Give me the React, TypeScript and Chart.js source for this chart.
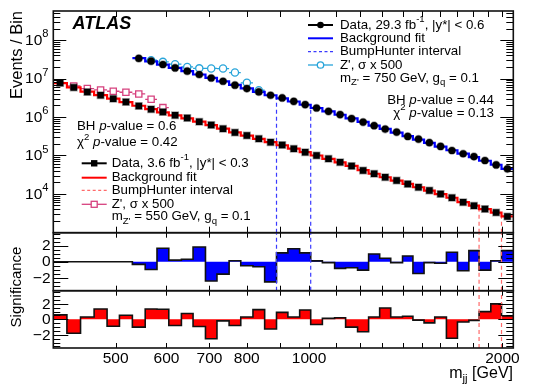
import React, { useEffect, useRef } from "react";
import { Chart, registerables } from "chart.js";
Chart.register(...registerables);

const FONT = '"Liberation Sans", Arial, Helvetica, sans-serif';

// ---- data ----
const binEdges = [400, 420, 441, 463, 485, 507, 531, 556, 580, 605, 633, 660, 690, 719, 751, 783, 818, 853, 890, 927, 967, 1006, 1049, 1096, 1140, 1190, 1238, 1288, 1340, 1398, 1451, 1510, 1569, 1636, 1702, 1773, 1839, 1918, 1993, 2079];

const redData = [7.7e6, 5.9e6, 4.5e6, 3.7e6, 3.0e6, 2.47e6, 1.94e6, 1.59e6, 1.35e6, 1.11e6, 9.4e5, 7.6e5, 6.2e5, 5.0e5, 3.95e5, 3.33e5, 2.73e5, 2.22e5, 1.88e5, 1.5e5, 1.22e5, 1.0e5, 8.2e4, 6.7e4, 5.3e4, 4.1e4, 3.33e4, 2.71e4, 2.22e4, 1.82e4, 1.49e4, 1.22e4, 1.0e4, 7.9e3, 6.1e3, 4.95e3, 4.06e3, 3.31e3, 2.6e3];
const redFit = [7.6e6, 5.95e6, 4.6e6, 3.72e6, 3.02e6, 2.45e6, 1.97e6, 1.6e6, 1.33e6, 1.1e6, 9.2e5, 7.6e5, 6.2e5, 5.0e5, 4.0e5, 3.3e5, 2.72e5, 2.24e5, 1.85e5, 1.51e5, 1.23e5, 1.0e5, 8.2e4, 6.65e4, 5.35e4, 4.15e4, 3.35e4, 2.72e4, 2.22e4, 1.82e4, 1.49e4, 1.22e4, 9.9e3, 7.95e3, 6.15e3, 4.95e3, 4.0e3, 3.25e3, 2.6e3];

const blueFirstBin = 6;
const blueData = [3.35e7, 2.84e7, 2.33e7, 1.9e7, 1.56e7, 1.28e7, 1.04e7, 8.55e6, 6.75e6, 5.52e6, 4.5e6, 3.69e6, 3.14e6, 2.57e6, 2.11e6, 1.72e6, 1.41e6, 1.16e6, 9.1e5, 7.4e5, 5.96e5, 4.86e5, 4.06e5, 3.13e5, 2.67e5, 2.15e5, 1.72e5, 1.35e5, 1.11e5, 9.4e4, 7.4e4, 5.7e4, 4.5e4];
const blueFit = [3.4e7, 2.8e7, 2.32e7, 1.91e7, 1.57e7, 1.28e7, 1.05e7, 8.5e6, 6.85e6, 5.55e6, 4.5e6, 3.7e6, 3.07e6, 2.54e6, 2.09e6, 1.72e6, 1.41e6, 1.15e6, 9.2e5, 7.5e5, 6.0e5, 4.9e5, 3.95e5, 3.18e5, 2.6e5, 2.12e5, 1.7e5, 1.37e5, 1.12e5, 9.1e4, 7.3e4, 5.75e4, 4.5e4];

const zBlueFirstBin = 7;
const zBlue = [3.02e7, 2.73e7, 2.38e7, 2.02e7, 1.85e7, 1.84e7, 1.83e7, 1.44e7, 7.8e6, 4.98e6];
const zRedFirstBin = 1;
const zRed = [6.44e6, 5.52e6, 5.07e6, 4.69e6, 4.42e6, 3.99e6, 2.9e6, 1.76e6];

const blueSig = [0, 0, 0, 0, 0, 0, -0.33, -0.96, 1.67, 0.2, 0.3, 1.83, -2.4, -1.54, 0.12, -0.5, -0.62, -2.5, 1.1, 1.6, 1.1, 0.1, -0.12, -0.83, -0.75, -1.04, 0.96, 0.42, -0.12, 0.7, -1.46, -0.12, -0.2, 1.17, -1.12, 1.37, -1.04, 0.12, 1.37];
const redSig = [0.58, -1.8, 0.3, 1.33, -0.9, 0.53, -1.0, 1.33, 1.3, -0.8, 0.75, -0.93, -2.5, -0.2, -0.8, 0.3, 1.25, -1.25, 0.9, 0.3, 1.2, -0.67, 0.13, 0.2, -1.0, -1.6, 0.3, 1.47, 0.3, 0.4, -0.1, -0.45, 0.3, -2.45, -0.35, -0.13, 1.0, 2.0, 0.45];

const blueBHBins = [18, 21];
const redBHBins = [36, 38];

const xTickValues = [500, 600, 700, 800, 900, 1000, 1100, 1200, 1300, 1400, 1500, 1600, 1700, 1800, 1900, 2000];
const xLabelValues = [500, 600, 700, 800, 1000, 2000];
const mainDecades = [3, 4, 5, 6, 7, 8];
const sigLabelValues = [2, 0, -2];

const X_MIN = 400, X_MAX = 2079;
const Y_MIN = 980, Y_MAX = 5.75e8;

const BLUE = "#0000ff";
const RED = "#ff0000";
const ZBLUE = "#29a5da";
const ZRED = "#d6417e";
const BLUE_DASH = "#3a3aff";
const RED_DASH = "#ff6a6a";

// ---- helpers ----
type Seg = { t: string; s?: "sup" | "sub"; it?: boolean; b?: boolean };
function fontFor(s: Seg, size: number) {
  const sz = s.s ? size * 0.72 : size;
  return `${s.it ? "italic " : ""}${s.b ? "bold " : ""}${sz}px ${FONT}`;
}
function drawRich(ctx: CanvasRenderingContext2D, segs: Seg[], x: number, y: number, size: number, align: "left" | "right" | "center" = "left", color = "#000") {
  ctx.save();
  ctx.fillStyle = color;
  ctx.textBaseline = "middle";
  ctx.textAlign = "left";
  let total = 0;
  for (const s of segs) { ctx.font = fontFor(s, size); total += ctx.measureText(s.t).width; }
  let cx = align === "right" ? x - total : align === "center" ? x - total / 2 : x;
  for (const s of segs) {
    ctx.font = fontFor(s, size);
    const dy = s.s === "sup" ? -0.42 * size : s.s === "sub" ? 0.32 * size : 0;
    ctx.fillText(s.t, cx, y + dy);
    cx += ctx.measureText(s.t).width;
  }
  ctx.restore();
}
const centers = binEdges.slice(0, -1).map((e, i) => Math.sqrt(e * binEdges[i + 1]));
function histPoints(vals: number[], first: number) {
  const pts = vals.map((v, i) => ({ x: binEdges[first + i], y: v }));
  pts.push({ x: binEdges[first + vals.length], y: vals[vals.length - 1] });
  return pts;
}

function frameAndTicks(chart: any, yTicks: { v: number; len: number }[], xLen: number) {
  const { ctx, chartArea: a, scales } = chart;
  const xs = scales.x, ys = scales.y;
  ctx.save();
  ctx.strokeStyle = "#000";
  ctx.lineWidth = 1;
  ctx.beginPath();
  for (const v of xTickValues) {
    const px = Math.round(xs.getPixelForValue(v)) + 0.5;
    ctx.moveTo(px, a.top); ctx.lineTo(px, a.top + xLen);
    ctx.moveTo(px, a.bottom); ctx.lineTo(px, a.bottom - xLen);
  }
  for (const t of yTicks) {
    const py = Math.round(ys.getPixelForValue(t.v)) + 0.5;
    if (py < a.top + 1 || py > a.bottom - 1) continue;
    ctx.moveTo(a.left, py); ctx.lineTo(a.left + t.len, py);
    ctx.moveTo(a.right, py); ctx.lineTo(a.right - t.len, py);
  }
  ctx.stroke();
  ctx.lineWidth = 1.6;
  ctx.strokeStyle = "#111";
  ctx.strokeRect(a.left, a.top, a.right - a.left, a.bottom - a.top);
  ctx.restore();
}

function dashedV(chart: any, xv: number, yTop: number | null, color: string) {
  const { ctx, chartArea: a, scales } = chart;
  const px = scales.x.getPixelForValue(xv);
  const top = yTop == null ? a.top : scales.y.getPixelForValue(yTop);
  ctx.save();
  ctx.strokeStyle = color;
  ctx.lineWidth = 1.2;
  ctx.setLineDash([4, 3]);
  ctx.beginPath();
  ctx.moveTo(px, a.bottom);
  ctx.lineTo(px, top);
  ctx.stroke();
  ctx.restore();
}

function legendMarker(ctx: CanvasRenderingContext2D, x0: number, x1: number, y: number, color: string, dash: boolean, marker: "circle" | "square" | "ocircle" | "osquare" | null) {
  ctx.save();
  ctx.strokeStyle = color;
  ctx.lineWidth = marker === "ocircle" || marker === "osquare" ? 1.3 : 2;
  if (dash) { ctx.setLineDash([3, 2.5]); ctx.lineWidth = 1.3; }
  ctx.beginPath(); ctx.moveTo(x0, y); ctx.lineTo(x1, y); ctx.stroke();
  ctx.setLineDash([]);
  const cx = (x0 + x1) / 2;
  if (marker === "circle") { ctx.fillStyle = "#000"; ctx.beginPath(); ctx.arc(cx, y, 3.3, 0, Math.PI * 2); ctx.fill(); }
  if (marker === "square") { ctx.fillStyle = "#000"; ctx.fillRect(cx - 3.2, y - 3.2, 6.4, 6.4); }
  if (marker === "ocircle") { ctx.fillStyle = "#fff"; ctx.beginPath(); ctx.arc(cx, y, 3.2, 0, Math.PI * 2); ctx.fill(); ctx.stroke(); }
  if (marker === "osquare") { ctx.fillStyle = "#fff"; ctx.fillRect(cx - 3, y - 3, 6, 6); ctx.strokeRect(cx - 3, y - 3, 6, 6); }
  ctx.restore();
}

const baseOptions = (padTop: number, padBottom: number, yScale: any) => ({
  responsive: false,
  animation: false as const,
  devicePixelRatio: 1,
  events: [] as any[],
  layout: { padding: { left: 53.3, right: 26.7, top: padTop, bottom: padBottom } },
  plugins: { legend: { display: false }, tooltip: { enabled: false }, title: { display: false } },
  scales: {
    x: { type: "logarithmic", min: X_MIN, max: X_MAX, display: false },
    y: { ...yScale, display: false },
  },
});

function makeMain(canvas: HTMLCanvasElement) {
  const mainTicks: { v: number; len: number }[] = [];
  for (const n of [2, ...mainDecades]) for (let k = 1; k <= 9; k++) mainTicks.push({ v: k * Math.pow(10, n), len: k === 1 ? 13 : 7 });

  const zBars = {
    id: "zbars",
    beforeDatasetsDraw(chart: any) {
      const { ctx, scales } = chart;
      ctx.save();
      ctx.lineWidth = 1.3;
      const draw = (vals: number[], first: number, color: string) => {
        ctx.strokeStyle = color;
        ctx.beginPath();
        vals.forEach((v, i) => {
          const y = scales.y.getPixelForValue(v);
          ctx.moveTo(scales.x.getPixelForValue(binEdges[first + i]), y);
          ctx.lineTo(scales.x.getPixelForValue(binEdges[first + i + 1]), y);
        });
        ctx.stroke();
      };
      draw(zBlue, zBlueFirstBin, ZBLUE);
      draw(zRed, zRedFirstBin, ZRED);
      ctx.restore();
      // BumpHunter lines in main panel
      const fb = (bin: number) => blueFit[bin - blueFirstBin];
      dashedV(chart, binEdges[blueBHBins[0]], Math.min(fb(blueBHBins[0] - 1), fb(blueBHBins[0])), BLUE_DASH);
      dashedV(chart, binEdges[blueBHBins[1]], Math.min(fb(blueBHBins[1] - 1), fb(blueBHBins[1])), BLUE_DASH);
      dashedV(chart, binEdges[redBHBins[0]], Math.min(redFit[redBHBins[0] - 1], redFit[redBHBins[0]]), RED_DASH);
      dashedV(chart, binEdges[redBHBins[1]], Math.min(redFit[redBHBins[1] - 1], redFit[redBHBins[1]]), RED_DASH);
    },
    afterDraw(chart: any) {
      const { ctx, scales } = chart;
      frameAndTicks(chart, mainTicks, 6);
      // y labels
      for (const n of mainDecades) {
        const py = scales.y.getPixelForValue(Math.pow(10, n));
        if (py < chart.chartArea.top || py > chart.chartArea.bottom - 2) continue;
        drawRich(ctx, [{ t: "10" }, { t: String(n), s: "sup" }], 48.5, py + 0.5, 15.5, "right");
      }
      // y title
      ctx.save();
      ctx.translate(21.5, 11);
      ctx.rotate(-Math.PI / 2);
      ctx.font = `16.5px ${FONT}`;
      ctx.textAlign = "right";
      ctx.textBaseline = "alphabetic";
      ctx.fillStyle = "#000";
      ctx.fillText("Events / Bin", 0, 0);
      ctx.restore();
      // ATLAS
      ctx.save();
      ctx.font = `italic bold 18px ${FONT}`;
      ctx.textBaseline = "middle";
      ctx.fillStyle = "#000";
      ctx.fillText("ATLAS", 72.5, 24.5);
      ctx.restore();
      // right legend
      const fs = 13.3;
      const rx = 340;
      legendMarker(ctx, 308, 333, 25, "#000", false, "circle");
      drawRich(ctx, [{ t: "Data, 29.3 fb" }, { t: "-1", s: "sup" }, { t: ", |y*| < 0.6" }], rx, 25, fs);
      legendMarker(ctx, 308, 333, 38.3, BLUE, false, null);
      drawRich(ctx, [{ t: "Background fit" }], rx, 38.3, fs);
      legendMarker(ctx, 308, 333, 51.7, BLUE_DASH, true, null);
      drawRich(ctx, [{ t: "BumpHunter interval" }], rx, 51.7, fs);
      legendMarker(ctx, 308, 333, 65, ZBLUE, false, "ocircle");
      drawRich(ctx, [{ t: "Z', σ x 500" }], rx, 65, fs);
      drawRich(ctx, [{ t: "m" }, { t: "Z'", s: "sub" }, { t: " = 750 GeV, g" }, { t: "q", s: "sub" }, { t: " = 0.1" }], rx, 78.3, fs);
      drawRich(ctx, [{ t: "BH " }, { t: "p", it: true }, { t: "-value = 0.44" }], 494, 100, fs, "right");
      drawRich(ctx, [{ t: "χ" }, { t: "2", s: "sup" }, { t: " " }, { t: "p", it: true }, { t: "-value = 0.13" }], 494, 113.3, fs, "right");
      // left legend
      drawRich(ctx, [{ t: "BH " }, { t: "p", it: true }, { t: "-value = 0.6" }], 77, 126.7, fs);
      drawRich(ctx, [{ t: "χ" }, { t: "2", s: "sup" }, { t: " " }, { t: "p", it: true }, { t: "-value = 0.42" }], 77, 142.7, fs);
      const lx = 111.7;
      legendMarker(ctx, 81.7, 106.7, 163.3, "#000", false, "square");
      drawRich(ctx, [{ t: "Data, 3.6 fb" }, { t: "-1", s: "sup" }, { t: ", |y*| < 0.3" }], lx, 163.3, fs);
      legendMarker(ctx, 81.7, 106.7, 177.7, RED, false, null);
      drawRich(ctx, [{ t: "Background fit" }], lx, 177.7, fs);
      legendMarker(ctx, 81.7, 106.7, 190.3, RED_DASH, true, null);
      drawRich(ctx, [{ t: "BumpHunter interval" }], lx, 190.3, fs);
      legendMarker(ctx, 81.7, 106.7, 204.3, ZRED, false, "osquare");
      drawRich(ctx, [{ t: "Z', σ x 500" }], lx, 204.3, fs);
      drawRich(ctx, [{ t: "m" }, { t: "Z'", s: "sub" }, { t: " = 550 GeV, g" }, { t: "q", s: "sub" }, { t: " = 0.1" }], lx, 216.7, fs);
    },
  };

  return new Chart(canvas, {
    type: "line",
    data: {
      datasets: [
        {
          data: blueData.map((v, i) => ({ x: centers[blueFirstBin + i], y: v })),
          showLine: false, pointStyle: "circle", pointRadius: 3.6,
          pointBackgroundColor: "#000", pointBorderColor: "rgba(0,0,0,0.35)", pointBorderWidth: 1.5,
        },
        {
          data: redData.map((v, i) => ({ x: centers[i], y: v })),
          showLine: false, pointStyle: "rect", pointRadius: 4.6,
          pointBackgroundColor: "#000", pointBorderColor: "rgba(0,0,0,0.35)", pointBorderWidth: 1.5,
        },
        {
          data: zBlue.map((v, i) => ({ x: centers[zBlueFirstBin + i], y: v })),
          showLine: false, pointStyle: "circle", pointRadius: 3.6,
          pointBackgroundColor: "#fff", pointBorderColor: ZBLUE, pointBorderWidth: 1.3,
        },
        {
          data: zRed.map((v, i) => ({ x: centers[zRedFirstBin + i], y: v })),
          showLine: false, pointStyle: "rect", pointRadius: 4.4,
          pointBackgroundColor: "#fff", pointBorderColor: ZRED, pointBorderWidth: 1.3,
        },
        {
          data: histPoints(blueFit, blueFirstBin), stepped: "before", borderColor: BLUE, borderWidth: 2.2,
          pointRadius: 0, fill: false,
        },
        {
          data: histPoints(redFit, 0), stepped: "before", borderColor: RED, borderWidth: 2.2,
          pointRadius: 0, fill: false,
        },
      ] as any,
    },
    options: baseOptions(11, 388 - 232.7, { type: "logarithmic", min: Y_MIN, max: Y_MAX }) as any,
    plugins: [zBars],
  });
}

function makeSig(canvas: HTMLCanvasElement, vals: number[], color: string, top: number, bottom: number, range: number, showBlueBH: boolean, isLast: boolean) {
  const sigTicks: { v: number; len: number }[] = [];
  for (let v = -3.5; v <= 3.5; v += 0.5) sigTicks.push({ v, len: Math.abs(v) === 2 || v === 0 ? 15 : 7 });
  const deco = {
    id: "deco",
    afterDatasetsDraw(chart: any) {
      if (showBlueBH) {
        dashedV(chart, binEdges[blueBHBins[0]], null, BLUE_DASH);
        dashedV(chart, binEdges[blueBHBins[1]], null, BLUE_DASH);
      }
      dashedV(chart, binEdges[redBHBins[0]], null, RED_DASH);
      dashedV(chart, binEdges[redBHBins[1]], null, RED_DASH);
    },
    afterDraw(chart: any) {
      const { ctx, scales } = chart;
      frameAndTicks(chart, sigTicks, 5);
      for (const v of sigLabelValues) {
        const py = scales.y.getPixelForValue(v);
        drawRich(ctx, [{ t: v < 0 ? "−" + Math.abs(v) : String(v) }], 50.5, py + 0.5, 15.5, "right");
      }
      if (showBlueBH) {
        ctx.save();
        ctx.translate(20.5, 287);
        ctx.rotate(-Math.PI / 2);
        ctx.font = `15px ${FONT}`;
        ctx.textAlign = "center";
        ctx.textBaseline = "alphabetic";
        ctx.fillStyle = "#000";
        ctx.fillText("Significance", 0, 0);
        ctx.restore();
      }
      if (isLast) {
        for (const v of xLabelValues) {
          drawRich(ctx, [{ t: String(v) }], scales.x.getPixelForValue(v), 359, 15.5, "center");
        }
        drawRich(ctx, [{ t: "m" }, { t: "jj", s: "sub" }, { t: " [GeV]" }], 513, 373.5, 16, "right");
      }
    },
  };
  return new Chart(canvas, {
    type: "line",
    data: {
      datasets: [
        {
          data: histPoints(vals, 0), stepped: "before", borderColor: "#111", borderWidth: 1.6,
          backgroundColor: color, fill: "origin", pointRadius: 0,
        },
      ] as any,
    },
    options: baseOptions(top, 388 - bottom, { type: "linear", min: -range, max: range }) as any,
    plugins: [deco],
  });
}

export default function App() {
  const r1 = useRef<HTMLCanvasElement>(null);
  const r2 = useRef<HTMLCanvasElement>(null);
  const r3 = useRef<HTMLCanvasElement>(null);
  useEffect(() => {
    const charts = [
      makeMain(r1.current!),
      makeSig(r2.current!, blueSig, BLUE, 232.7, 290.7, 3.6, true, false),
      makeSig(r3.current!, redSig, RED, 290.7, 348, 3.7, false, true),
    ];
    return () => charts.forEach((c) => c.destroy());
  }, []);
  const cs: React.CSSProperties = { position: "absolute", left: 0, top: 0, width: 540, height: 388 };
  return (
    <div style={{ position: "fixed", left: 0, top: 0, width: 540, height: 388, background: "#fff" }}>
      <canvas ref={r1} width={540} height={388} style={cs} />
      <canvas ref={r2} width={540} height={388} style={cs} />
      <canvas ref={r3} width={540} height={388} style={cs} />
    </div>
  );
}
